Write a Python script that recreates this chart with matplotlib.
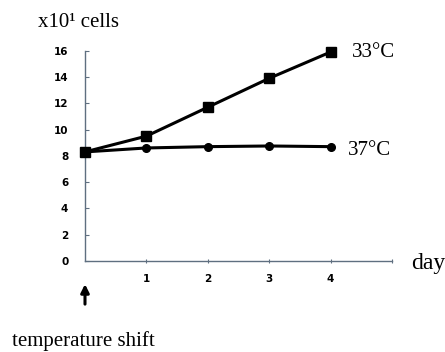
import matplotlib
matplotlib.use("Agg")
import matplotlib.pyplot as plt

# values (x10^1 cells)
days = [0, 1, 2, 3, 4]
cells_33 = [8.3, 9.5, 11.7, 13.9, 15.9]
cells_37 = [8.3, 8.6, 8.7, 8.75, 8.7]
yticks = [0, 2, 4, 6, 8, 10, 12, 14, 16]
xticks = [1, 2, 3, 4]

serif = "Liberation Serif"
axis_col = "#5f6f80"

fig = plt.figure(figsize=(4.45, 3.52), dpi=100)
ax = fig.add_axes([0.191, 0.2585, 0.690, 0.5975])

ax.plot(days, cells_33, color="black", lw=2.2, marker="s", ms=6.5, zorder=3, clip_on=False)
ax.plot(days, cells_37, color="black", lw=2.2, marker="o", ms=5.5, zorder=3, clip_on=False)

ax.set_xlim(0, 5)
ax.set_ylim(0, 16)
ax.set_yticks(yticks)
ax.set_yticklabels([str(v) for v in yticks], fontsize=7.5, fontweight="bold")
ax.set_xticks(xticks + [5])
ax.set_xticklabels([str(v) for v in xticks] + [""], fontsize=7.5, fontweight="bold")
ax.tick_params(axis="y", direction="in", length=3, pad=12, color=axis_col)
ax.tick_params(axis="x", direction="inout", length=3, pad=8, color=axis_col)

for s in ["top", "right"]:
    ax.spines[s].set_visible(False)
for s in ["left", "bottom"]:
    ax.spines[s].set_color(axis_col)
    ax.spines[s].set_linewidth(1.0)

# labels
fig.text(0.085, 0.937, "x10\u00b9 cells", fontsize=15, family=serif, va="center")
fig.text(0.791, 0.850, "33\u00b0C", fontsize=15, family=serif, va="center")
fig.text(0.782, 0.572, "37\u00b0C", fontsize=15, family=serif, va="center")
fig.text(0.925, 0.250, "day", fontsize=17, family=serif, va="center")
fig.text(0.028, 0.031, "temperature shift", fontsize=15, family=serif, va="center")

# arrow marking the temperature shift
ax.annotate("", xy=(0, -0.11), xytext=(0, -0.205), xycoords="axes fraction",
            arrowprops=dict(arrowstyle="-|>", color="black", lw=2.2, mutation_scale=12,
                            shrinkA=0, shrinkB=0))

fig.savefig("out.png", dpi=100)
